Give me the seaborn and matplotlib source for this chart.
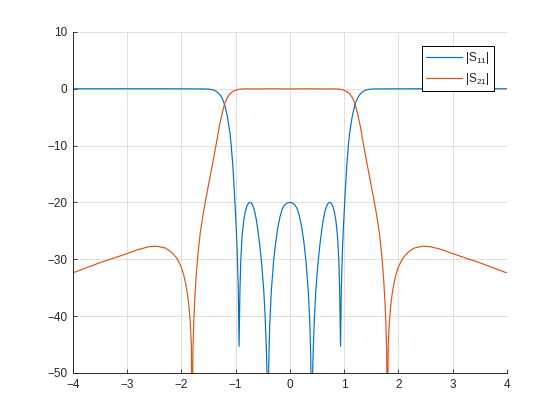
import numpy as np
import pandas as pd
import matplotlib
matplotlib.use('Agg')
import matplotlib.pyplot as plt
import seaborn as sns

# |S11| in dB
s11_x = [-4.0, -3.0, -2.0, -1.6, -1.5, -1.45, -1.4, -1.35, -1.3, -1.25, -1.2, -1.15,
         -1.1, -1.08, -1.05, -1.02, -0.99, -0.97, -0.95, -0.935, -0.92, -0.905, -0.88,
         -0.85, -0.82, -0.79, -0.76, -0.735, -0.71, -0.68, -0.65, -0.62, -0.59, -0.56,
         -0.53, -0.51, -0.48, -0.455, -0.435, -0.42, -0.41, -0.40, -0.385, -0.37, -0.34,
         -0.30, -0.26, -0.22, -0.18, -0.14, -0.10, -0.05, 0.0,
         0.05, 0.10, 0.14, 0.18, 0.22, 0.26, 0.30, 0.34, 0.37, 0.385, 0.40, 0.41, 0.42,
         0.435, 0.455, 0.48, 0.51, 0.53, 0.56, 0.59, 0.62, 0.65, 0.68, 0.71, 0.735,
         0.76, 0.79, 0.82, 0.85, 0.88, 0.905, 0.92, 0.935, 0.95, 0.97, 0.99, 1.02,
         1.05, 1.08, 1.1, 1.15, 1.2, 1.25, 1.3, 1.35, 1.4, 1.45, 1.5, 1.6, 2.0, 3.0, 4.0]
s11_db = [0.0, 0.0, -0.01, -0.03, -0.06, -0.12, -0.25, -0.5, -0.9, -1.6, -2.8, -4.9,
          -8.0, -10.0, -13.5, -18.5, -24.0, -28.5, -35.0, -45.3, -36.0, -30.5, -26.0,
          -23.2, -21.6, -20.6, -20.1, -20.0, -20.1, -20.6, -21.5, -22.9, -24.8, -27.0,
          -29.7, -31.8, -35.5, -40.0, -45.0, -50.0, -56.0, -56.0, -47.0, -41.5, -35.5,
          -30.5, -27.0, -24.4, -22.5, -21.2, -20.5, -20.1, -20.0,
          -20.1, -20.5, -21.2, -22.5, -24.4, -27.0, -30.5, -35.5, -41.5, -47.0, -56.0, -56.0, -50.0,
          -45.0, -40.0, -35.5, -31.8, -29.7, -27.0, -24.8, -22.9, -21.5, -20.6, -20.1, -20.0,
          -20.1, -20.6, -21.6, -23.2, -26.0, -30.5, -36.0, -45.3, -35.0, -28.5, -24.0, -18.5,
          -13.5, -10.0, -8.0, -4.9, -2.8, -1.6, -0.9, -0.5, -0.25, -0.12, -0.06, -0.03, -0.01, 0.0, 0.0]

# |S21| in dB
s21_x = [-4.0, -3.75, -3.5, -3.25, -3.0, -2.8, -2.6, -2.45, -2.3, -2.2, -2.1, -2.05,
         -2.0, -1.96, -1.92, -1.885, -1.86, -1.835, -1.815, -1.80, -1.785, -1.77, -1.75,
         -1.73, -1.71, -1.69, -1.65, -1.6, -1.56, -1.5, -1.45, -1.4, -1.37, -1.33,
         -1.3, -1.25, -1.2, -1.15, -1.1, -1.05, -1.0, -0.95, -0.9, -0.8, -0.6, -0.3, 0.0,
         0.3, 0.6, 0.8, 0.9, 0.95, 1.0, 1.05, 1.1, 1.15, 1.2, 1.25, 1.3, 1.33, 1.37,
         1.4, 1.45, 1.5, 1.56, 1.6, 1.65, 1.69, 1.71, 1.73, 1.75, 1.77, 1.785, 1.80,
         1.815, 1.835, 1.86, 1.885, 1.92, 1.96, 2.0, 2.05, 2.1, 2.2, 2.3, 2.45, 2.6,
         2.8, 3.0, 3.25, 3.5, 3.75, 4.0]
s21_db = [-32.4, -31.5, -30.6, -29.8, -29.0, -28.3, -27.8, -27.7, -28.0, -28.6, -29.6, -30.4,
          -31.4, -32.6, -34.2, -36.2, -38.2, -41.0, -45.0, -60.0, -46.0, -41.0, -36.8,
          -33.5, -31.0, -28.8, -25.3, -22.2, -20.0, -17.0, -14.5, -12.0, -10.4, -8.3,
          -6.6, -4.4, -2.6, -1.5, -0.85, -0.5, -0.27, -0.12, -0.05, -0.02, -0.03, -0.01, -0.03,
          -0.01, -0.03, -0.02, -0.05, -0.12, -0.27, -0.5, -0.85, -1.5, -2.6, -4.4, -6.6, -8.3, -10.4,
          -12.0, -14.5, -17.0, -20.0, -22.2, -25.3, -28.8, -31.0, -33.5, -36.8, -41.0, -46.0, -60.0,
          -45.0, -41.0, -38.2, -36.2, -34.2, -32.6, -31.4, -30.4, -29.6, -28.6, -28.0, -27.7, -27.8,
          -28.3, -29.0, -29.8, -30.6, -31.5, -32.4]

x_ticks = [-4, -3, -2, -1, 0, 1, 2, 3, 4]
y_ticks = [-50, -40, -30, -20, -10, 0, 10]

sns.set_style('ticks')
plt.rcParams['font.family'] = ['Liberation Sans', 'DejaVu Sans']
plt.rcParams['mathtext.fontset'] = 'custom'
plt.rcParams['mathtext.rm'] = 'Liberation Sans'
plt.rcParams['mathtext.it'] = 'Liberation Sans'

fig = plt.figure(figsize=(5.6, 4.2), dpi=100)
ax = fig.add_axes([0.13, 0.112, 0.775, 0.812])

sns.lineplot(x=s11_x, y=s11_db, ax=ax, color='#0072BD', linewidth=0.85,
             label='|S$_{11}$|', sort=False, estimator=None)
sns.lineplot(x=s21_x, y=s21_db, ax=ax, color='#D95319', linewidth=0.85,
             label='|S$_{21}$|', sort=False, estimator=None)

ax.set_xlim(-4, 4)
ax.set_ylim(-50, 10)
ax.set_xticks(x_ticks)
ax.set_yticks(y_ticks)
ax.grid(True, color='#e0e0e0', linewidth=0.7)
ax.set_axisbelow(True)
ax.tick_params(direction='in', length=3, width=0.6, labelsize=8.5, colors='#262626',
               top=False, right=False, pad=4)
for side in ['top', 'right']:
    ax.spines[side].set_visible(False)
for side in ['left', 'bottom']:
    ax.spines[side].set_color('#262626')
    ax.spines[side].set_linewidth(0.7)

leg = ax.legend(loc='upper right', bbox_to_anchor=(0.97, 0.96), fontsize=8.5,
                frameon=True, fancybox=False, handlelength=3.0, borderpad=0.35,
                labelspacing=0.45, handletextpad=0.3, borderaxespad=0.0)
leg.get_frame().set_edgecolor('black')
leg.get_frame().set_linewidth(0.7)
leg.get_frame().set_alpha(1)

fig.savefig('out.png', dpi=100)
